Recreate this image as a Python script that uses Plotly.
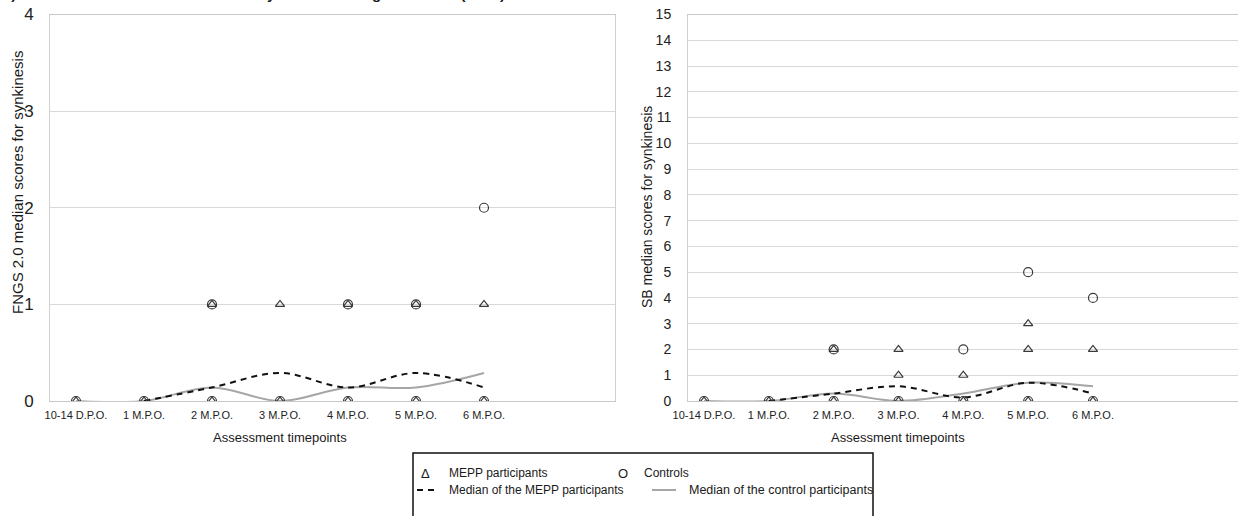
import plotly.graph_objects as go

W, H = 1238, 516

categories = ["10-14 D.P.O.", "1 M.P.O.", "2 M.P.O.", "3 M.P.O.", "4 M.P.O.", "5 M.P.O.", "6 M.P.O."]

# FNGS 2.0 synkinesis scores (individual values at each timepoint)
fngs_mepp_points = [[0], [0], [0, 1], [0, 1], [0, 1], [0, 1], [0, 1]]
fngs_ctrl_points = [[0], [0], [0, 1], [0], [0, 1], [0, 1], [0, 2]]
fngs_mepp_median = [None, 0, 0.14, 0.29, 0.14, 0.29, 0.14]
fngs_ctrl_median = [0, 0, 0.14, 0, 0.14, 0.14, 0.29]

# Sunnybrook synkinesis scores
sb_mepp_points = [[0], [0], [0, 2], [0, 1, 2], [0, 1], [0, 2, 3], [0, 2]]
sb_ctrl_points = [[0], [0], [0, 2], [0], [0, 2], [0, 5], [0, 4]]
sb_mepp_median = [None, 0, 0.29, 0.57, 0.14, 0.71, 0.29]
sb_ctrl_median = [0, 0, 0.29, 0, 0.29, 0.71, 0.57]

left_yticks = [0, 1, 2, 3, 4]
right_yticks = list(range(0, 16))

FONT = "Liberation Sans, Arial, sans-serif"
MARK = "#3a3a3a"
GRID = "#d9d9d9"


def px_x(p):
    return p / W


def px_y(p):
    return 1 - p / H


def flatten(points):
    xs, ys = [], []
    for i, vals in enumerate(points):
        for v in vals:
            xs.append(i)
            ys.append(v)
    return xs, ys


fig = go.Figure()

panels = [
    ("x", "y", fngs_mepp_points, fngs_ctrl_points, fngs_mepp_median, fngs_ctrl_median),
    ("x2", "y2", sb_mepp_points, sb_ctrl_points, sb_mepp_median, sb_ctrl_median),
]
idx = list(range(len(categories)))
for xa, ya, mp, cp, mm, cm in panels:
    fig.add_trace(go.Scatter(x=idx, y=cm, mode="lines", xaxis=xa, yaxis=ya,
                             line=dict(color="#a6a6a6", width=2, shape="spline", smoothing=1.0),
                             connectgaps=False, showlegend=False))
    fig.add_trace(go.Scatter(x=idx, y=mm, mode="lines", xaxis=xa, yaxis=ya,
                             line=dict(color="#111111", width=2, dash="6px,5px", shape="spline", smoothing=1.0),
                             connectgaps=False, showlegend=False))
    tx, ty = flatten(mp)
    fig.add_trace(go.Scatter(x=tx, y=ty, mode="markers", xaxis=xa, yaxis=ya,
                             marker=dict(symbol="triangle-up-open", size=8, color=MARK, line=dict(width=1.2, color=MARK)),
                             showlegend=False))
    cx, cy = flatten(cp)
    fig.add_trace(go.Scatter(x=cx, y=cy, mode="markers", xaxis=xa, yaxis=ya,
                             marker=dict(symbol="circle-open", size=9, color=MARK, line=dict(width=1.2, color=MARK)),
                             showlegend=False))

# category positions in pixels: left 76 + 68*i ; right 704 + 64.83*i
lx0, lx1, ldx = 50, 615, 68.0
rx0, rx1, rdx = 688, 1238, 64.83
ytop, ybot = 14.5, 401

common_x = dict(tickmode="array", tickvals=idx, ticktext=categories, showgrid=False,
                zeroline=False, showline=True, linecolor="#c8c8c8", linewidth=1, mirror=True,
                ticks="", tickfont=dict(family=FONT, size=11, color="#222"), ticklabelstandoff=4,
                automargin=False)

fig.update_layout(
    width=W, height=H,
    margin=dict(l=0, r=0, t=0, b=0, autoexpand=False),
    paper_bgcolor="white", plot_bgcolor="white",
    showlegend=False,
    xaxis=dict(domain=[px_x(lx0), px_x(lx1)], range=[(lx0 - 76) / ldx, (lx1 - 76) / ldx], anchor="y", **common_x),
    yaxis=dict(domain=[px_y(ybot), px_y(ytop)], range=[0, 4], tickvals=left_yticks, anchor="x",
               showgrid=True, gridcolor=GRID, gridwidth=1, zeroline=False,
               showline=True, linecolor="#d0d0d0", mirror=True, ticks="", automargin=False,
               tickfont=dict(family=FONT, size=17, color="#222"), ticklabelstandoff=12),
    xaxis2=dict(domain=[px_x(rx0), 1.0], range=[(rx0 - 704) / rdx, (rx1 - 704) / rdx], anchor="y2", **common_x),
    yaxis2=dict(domain=[px_y(ybot), px_y(ytop)], range=[0, 15], tickvals=right_yticks, anchor="x2",
                showgrid=True, gridcolor=GRID, gridwidth=1, zeroline=False,
                showline=True, linecolor="#d0d0d0", mirror=True, ticks="", automargin=False,
                tickfont=dict(family=FONT, size=14, color="#222"), ticklabelstandoff=13),
)


def note(text, x, y, size=12, angle=0, xa="center", ya="middle"):
    return dict(text=text, x=px_x(x), y=px_y(y), xref="paper", yref="paper", xanchor=xa, yanchor=ya,
                textangle=angle, showarrow=False, font=dict(family=FONT, size=size, color="#1a1a1a"))


ann = [
    # Figure title, clipped at the very top edge as in the source image
    note("<b>b) Individual and median scores for synkinesis rating outcomes (n = 7)</b>", 0, -6, size=15, xa="left"),
    note("FNGS 2.0 median scores for synkinesis", 18, 183, size=15, angle=-90),
    note("SB median scores for synkinesis", 647, 207, size=14, angle=-90),
    note("Assessment timepoints", 280, 437, size=13),
    note("Assessment timepoints", 898, 437, size=13),
    # legend
    note("Δ", 425, 473, size=13),
    note("MEPP participants", 447, 473, size=12, xa="left"),
    note("O", 623, 473, size=13),
    note("Controls", 642, 473, size=12, xa="left"),
    note("Median of the MEPP participants", 447, 490, size=12, xa="left"),
    note("Median of the control participants", 687, 490, size=12.5, xa="left"),
]
fig.update_layout(annotations=ann)

shapes = [
    dict(type="rect", xref="paper", yref="paper", x0=px_x(413), x1=px_x(873), y0=px_y(530), y1=px_y(453),
         line=dict(color="#111", width=1.5), fillcolor="rgba(0,0,0,0)"),
    dict(type="line", xref="paper", yref="paper", x0=px_x(417), x1=px_x(439), y0=px_y(490), y1=px_y(490),
         line=dict(color="#111", width=2, dash="6px,5px")),
    dict(type="line", xref="paper", yref="paper", x0=px_x(652), x1=px_x(676), y0=px_y(490), y1=px_y(490),
         line=dict(color="#a6a6a6", width=2)),
]
fig.update_layout(shapes=shapes)

fig.write_html("out.html", config={"displayModeBar": False},
               post_script="document.body.style.margin='0';document.body.style.overflow='hidden';")
